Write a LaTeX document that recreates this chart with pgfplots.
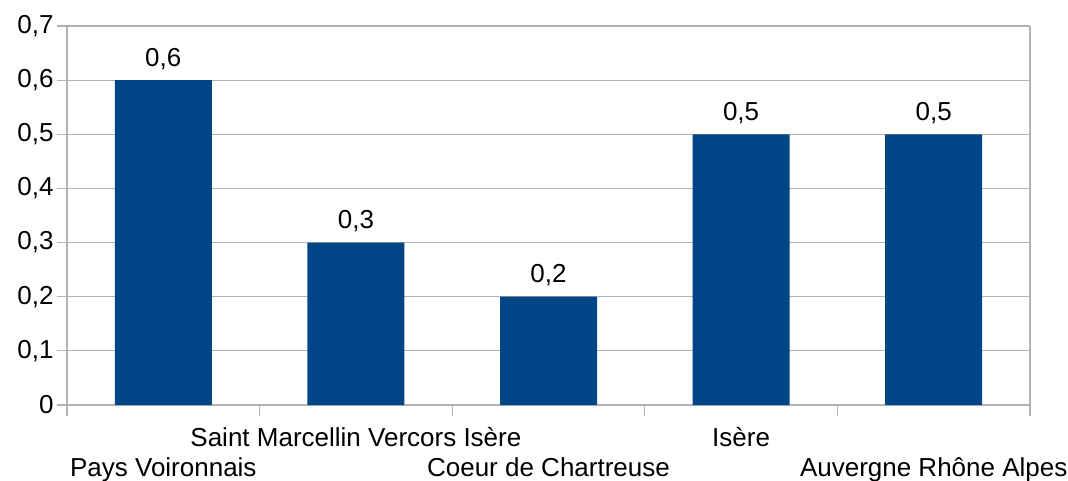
\documentclass[border=0pt]{standalone}
\usepackage{pgfplots}
\pgfplotsset{compat=1.18}
\usepackage{fontspec}
\setmainfont{Liberation Sans}
\definecolor{barblue}{HTML}{004586}
\definecolor{gridgray}{HTML}{B3B3B3}
\begin{document}
\begin{tikzpicture}
\begin{axis}[
  at={(0,0)}, anchor=south west,
  scale only axis,
  width=963pt, height=379pt,
  xmin=-0.5, xmax=4.5,
  ymin=0, ymax=0.7,
  ytick={0,0.1,...,0.7},
  ytick pos=left,
  xtick={0,1,2,3,4},
  xticklabels={{\strut\\Pays Voironnais},{\strut Saint Marcellin Vercors Isère},{\strut\\Coeur de Chartreuse},{\strut Isère},{\strut\\Auvergne Rhône Alpes}},
  minor xtick={-0.5,0.5,...,4.5},
  tick align=outside,
  major tick length=10pt,
  minor tick length=11pt,
  major x tick style={draw=none},
  minor x tick style={draw=gridgray, line width=1.2pt},
  y tick style={draw=gridgray, line width=1.2pt},
  ymajorgrids,
  grid style={draw=gridgray, line width=1.2pt},
  axis line style={draw=gridgray, line width=1.2pt},
  axis x line*=bottom,
  font=\fontsize{26}{30}\selectfont,
  ticklabel style={font=\fontsize{26}{30}\selectfont},
  xticklabel style={align=center, yshift=-7pt},
  /pgf/number format/assume math mode=true,
  /pgf/number format/use comma,
  /pgf/number format/fixed,
  /pgf/number format/precision=1,
  ybar,
  bar width=97pt,
  nodes near coords,
  every node near coord/.append style={font=\fontsize{26}{30}\selectfont, yshift=7pt},
]
\addplot[fill=barblue, draw=none] coordinates {(0,0.6) (1,0.3) (2,0.2) (3,0.5) (4,0.5)};
\end{axis}
\draw[gridgray, line width=1.2pt] (0,0) -- (0,379pt);
\draw[gridgray, line width=1.2pt] (963pt,0) -- (963pt,379pt);
\pgfresetboundingbox
\path[use as bounding box] (-67pt,-75pt) rectangle (1001pt,405pt);
\end{tikzpicture}
\end{document}
